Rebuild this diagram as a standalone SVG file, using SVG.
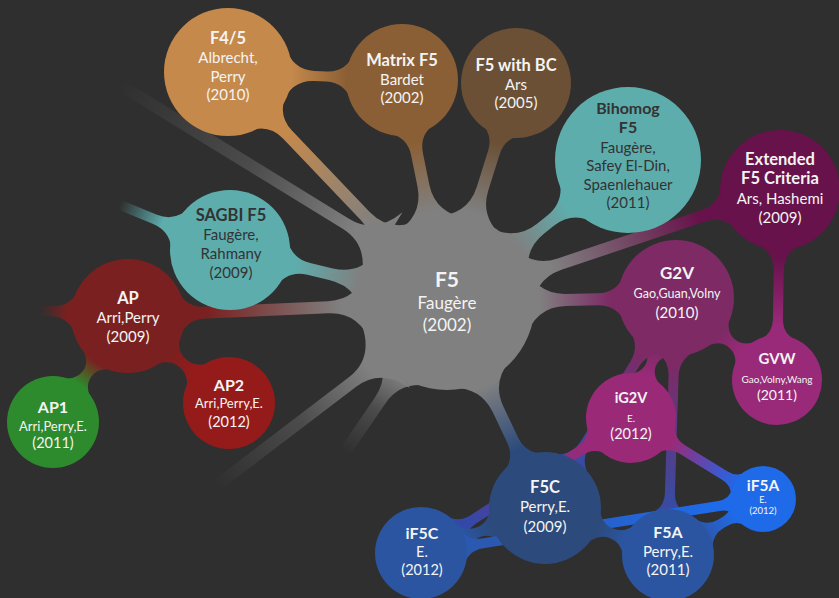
<svg xmlns="http://www.w3.org/2000/svg" width="839" height="598" viewBox="0 0 839 598">
<style>
text{font-family:Lato,"Open Sans","DejaVu Sans",sans-serif;text-anchor:middle;fill:#f4f4f4}
.b{font-weight:bold}
.d{fill:#333}
</style>
<defs>
<linearGradient id="gTan"><stop offset="0.15" stop-color="#808080"/><stop offset="0.85" stop-color="#c5894b"/></linearGradient>
<linearGradient id="gBr"><stop offset="0.15" stop-color="#808080"/><stop offset="0.85" stop-color="#8b5f35"/></linearGradient>
<linearGradient id="gDbr"><stop offset="0.15" stop-color="#808080"/><stop offset="0.85" stop-color="#6b5036"/></linearGradient>
<linearGradient id="gTeal"><stop offset="0.15" stop-color="#808080"/><stop offset="0.85" stop-color="#5eadad"/></linearGradient>
<linearGradient id="gExt"><stop offset="0.15" stop-color="#808080"/><stop offset="0.85" stop-color="#67124a"/></linearGradient>
<linearGradient id="gG2v"><stop offset="0.15" stop-color="#808080"/><stop offset="0.85" stop-color="#7d2a65"/></linearGradient>
<linearGradient id="gF5c"><stop offset="0.15" stop-color="#808080"/><stop offset="0.85" stop-color="#2c4a7b"/></linearGradient>
<linearGradient id="gAp"><stop offset="0.15" stop-color="#808080"/><stop offset="0.85" stop-color="#7a2020"/></linearGradient>
<linearGradient id="gTanBr"><stop offset="0.1" stop-color="#c5894b"/><stop offset="0.9" stop-color="#8b5f35"/></linearGradient>
<linearGradient id="gAp2"><stop offset="0.15" stop-color="#7a2020"/><stop offset="0.85" stop-color="#951b1b"/></linearGradient>
<linearGradient id="gAp1"><stop offset="0.15" stop-color="#7a2020"/><stop offset="0.85" stop-color="#2d8a2d"/></linearGradient>
<linearGradient id="gExtGvw"><stop offset="0.15" stop-color="#67124a"/><stop offset="0.85" stop-color="#992a79"/></linearGradient>
<linearGradient id="gG2vGvw"><stop offset="0.15" stop-color="#7d2a65"/><stop offset="0.85" stop-color="#992a79"/></linearGradient>
<linearGradient id="gG2vBlue"><stop offset="0.1" stop-color="#7d2a65"/><stop offset="0.9" stop-color="#3a4aa0"/></linearGradient>
<linearGradient id="gIgIf5a"><stop offset="0.1" stop-color="#9a2a78"/><stop offset="0.9" stop-color="#2a62e0"/></linearGradient>
<linearGradient id="gIgIf5c"><stop offset="0.1" stop-color="#9a2a78"/><stop offset="0.9" stop-color="#3448a8"/></linearGradient>
<linearGradient id="gBlue"><stop offset="0.15" stop-color="#2c4a7b"/><stop offset="0.85" stop-color="#2b55a0"/></linearGradient>
<linearGradient id="gBright"><stop offset="0.1" stop-color="#2b58b0"/><stop offset="0.9" stop-color="#1f6ae8"/></linearGradient>
<linearGradient id="fGray"><stop offset="0.1" stop-color="#808080"/><stop offset="0.5" stop-color="#808080" stop-opacity="0.35"/><stop offset="1" stop-color="#808080" stop-opacity="0"/></linearGradient>
<linearGradient id="fTeal"><stop offset="0.3" stop-color="#5eadad"/><stop offset="1" stop-color="#5eadad" stop-opacity="0"/></linearGradient>
<linearGradient id="fRed"><stop offset="0.3" stop-color="#7a2020"/><stop offset="1" stop-color="#7a2020" stop-opacity="0"/></linearGradient>
</defs>
<rect width="839" height="598" fill="#2f2f2f"/>
<g id="connectors">
<path fill="url(#fGray)" transform="translate(447,286) rotate(-148.4)" d="M76.6,-39.6 Q88,-6 118.8,-6 L384,-6 L384,6 L118.8,6 Q88,6 76.6,39.6Z"/>
<path fill="url(#fGray)" transform="translate(447,310) rotate(142.7)" d="M76.6,-39.6 Q88,-6 118.8,-6 L290,-6 L290,6 L118.8,6 Q88,6 76.6,39.6Z"/>
<path fill="url(#fGray)" transform="translate(447,302) rotate(124.2)" d="M76.6,-39.6 Q88,-6 118.8,-6 L181,-6 L181,6 L118.8,6 Q88,6 76.6,39.6Z"/>
<path fill="url(#fTeal)" transform="translate(230,250) rotate(-157.75)" d="M52.2,-27 Q60,-5 81,-5 L119,-5 L119,5 L81,5 Q60,5 52.2,27Z"/>
<path fill="url(#fRed)" transform="translate(128,316) rotate(-176.3)" d="M49.6,-25.7 Q57,-5 77,-5 L88,-5 L88,5 L77,5 Q57,5 49.6,25.7Z"/>
<path fill="url(#gTan)" transform="translate(447,302) rotate(-133.6)" d="M76.6,-39.6 Q88,-6 118.8,-6 L231.2,-6 Q253.6,-6 261.9,-28.8 L261.9,28.8 Q253.6,6 231.2,6 L118.8,6 Q88,6 76.6,39.6Z"/>
<path fill="url(#gBr)" transform="translate(447,302) rotate(-101.46)" d="M76.6,-39.6 Q88,-6 118.8,-6 L150.9,-6 Q170.5,-6 177.8,-25.2 L177.8,25.2 Q170.5,6 150.9,6 L118.8,6 Q88,6 76.6,39.6Z"/>
<path fill="url(#gDbr)" transform="translate(447,302) rotate(-72.59)" d="M76.6,-39.6 Q88,-6 118.8,-6 L156.3,-6 Q175.6,-6 182.7,-24.8 L182.7,24.8 Q175.6,6 156.3,6 L118.8,6 Q88,6 76.6,39.6Z"/>
<path fill="url(#gTeal)" transform="translate(447,302) rotate(-38.12)" d="M76.6,-39.6 Q88,-6 118.8,-6 L131.5,-6 Q157.1,-6 166.6,-32.9 L166.6,32.9 Q157.1,6 131.5,6 L118.8,6 Q88,6 76.6,39.6Z"/>
<path fill="url(#gExt)" transform="translate(447,302) rotate(-18.59)" d="M76.6,-39.6 Q88,-6 118.8,-6 L270.3,-6 Q291.3,-6 299.1,-27 L299.1,27 Q291.3,6 270.3,6 L118.8,6 Q88,6 76.6,39.6Z"/>
<path fill="url(#gG2v)" transform="translate(447,302) rotate(-1)" d="M76.6,-39.6 Q88,-6 118.8,-6 L150.7,-6 Q171,-6 178.5,-26.1 L178.5,26.1 Q171,6 150.7,6 L118.8,6 Q88,6 76.6,39.6Z"/>
<path fill="url(#gF5c)" transform="translate(447,302) rotate(64.56)" d="M76.6,-39.6 Q88,-6 118.8,-6 L152.5,-6 Q172.1,-6 179.4,-25.2 L179.4,25.2 Q172.1,6 152.5,6 L118.8,6 Q88,6 76.6,39.6Z"/>
<path fill="url(#gTeal)" transform="translate(447,302) rotate(-166.52)" d="M76.6,-39.6 Q88,-6 118.8,-6 L142.1,-6 Q163.1,-6 170.9,-27 L170.9,27 Q163.1,6 142.1,6 L118.8,6 Q88,6 76.6,39.6Z"/>
<path fill="url(#gAp)" transform="translate(447,302) rotate(177.49)" d="M76.6,-39.6 Q88,-6 118.8,-6 L242.3,-6 Q262.3,-6 269.7,-25.7 L269.7,25.7 Q262.3,6 242.3,6 L118.8,6 Q88,6 76.6,39.6Z"/>
<path fill="url(#gTanBr)" transform="translate(228,72) rotate(2.63)" d="M55.7,-28.8 Q64,-5 86.4,-5 L98.6,-5 Q118.2,-5 125.5,-25.2 L125.5,25.2 Q118.2,5 98.6,5 L86.4,5 Q64,5 55.7,28.8Z"/>
<path fill="url(#gAp2)" transform="translate(128,316) rotate(40.74)" d="M49.6,-25.7 Q57,-5 72.2,-5 Q87.3,-5 93.3,-20.7 L93.3,20.7 Q87.3,5 72.2,5 Q57,5 49.6,25.7Z"/>
<path fill="url(#gAp1)" transform="translate(128,316) rotate(125.28)" d="M49.6,-25.7 Q57,-5 70.45,-5 Q83.9,-5 89.9,-20.7 L89.9,20.7 Q83.9,5 70.45,5 Q57,5 49.6,25.7Z"/>
<path fill="url(#gExtGvw)" transform="translate(780,190) rotate(90.9)" d="M52.2,-27 Q60,-5 81,-5 L129.25,-5 Q145,-5 150.85,-20.25 L150.85,20.25 Q145,5 129.25,5 L81,5 Q60,5 52.2,27Z"/>
<path fill="url(#gG2vGvw)" transform="translate(676,298) rotate(39.07)" d="M50.5,-26.1 Q58,-5 71.55,-5 Q85.1,-5 90.95,-20.25 L90.95,20.25 Q85.1,5 71.55,5 Q58,5 50.5,26.1Z"/>
<path fill="url(#gG2vGvw)" transform="translate(676,298) rotate(110.56)" d="M50.5,-26.1 Q58,-5 70.6,-5 Q83.2,-5 89.05,-20.25 L89.05,20.25 Q83.2,5 70.6,5 Q58,5 50.5,26.1Z"/>
<path fill="url(#gG2vBlue)" transform="translate(676,298) rotate(91.78)" d="M50.5,-26.1 Q58,-5 78.3,-5 L195,-5 Q211.1,-5 217.1,-20.7 L217.1,20.7 Q211.1,5 195,5 L78.3,5 Q58,5 50.5,26.1Z"/>
<path fill="url(#gG2vBlue)" transform="translate(676,298) rotate(121.96)" d="M50.5,-26.1 Q58,-5 78.3,-5 L171.9,-5 Q191.5,-5 198.8,-25.2 L198.8,25.2 Q191.5,5 171.9,5 L78.3,5 Q58,5 50.5,26.1Z"/>
<path fill="url(#gIgIf5c)" transform="translate(631,418) rotate(147.26)" d="M39.15,-20.25 Q45,-5 60.75,-5 L187.5,-5 Q203.6,-5 209.6,-20.7 L209.6,20.7 Q203.6,5 187.5,5 L60.75,5 Q45,5 39.15,20.25Z"/>
<path fill="url(#gIgIf5a)" transform="translate(631,418) rotate(31.53)" d="M39.15,-20.25 Q45,-5 60.75,-5 L110.35,-5 Q121.9,-5 126.2,-14.85 L126.2,14.85 Q121.9,5 110.35,5 L60.75,5 Q45,5 39.15,20.25Z"/>
<path fill="url(#gBlue)" transform="translate(545,508) rotate(160.06)" d="M48.7,-25.2 Q56,-5 70.95,-5 Q85.9,-5 91.9,-20.7 L91.9,20.7 Q85.9,5 70.95,5 Q56,5 48.7,25.2Z"/>
<path fill="url(#gBright)" transform="translate(421,553) rotate(-8.97)" d="M40,-20.7 Q46,-5 62.1,-5 L301.65,-5 Q313.2,-5 317.5,-14.85 L317.5,14.85 Q313.2,5 301.65,5 L62.1,5 Q46,5 40,20.7Z"/>
<path fill="url(#gBlue)" transform="translate(545,508) rotate(20.91)" d="M48.7,-25.2 Q56,-5 70.85,-5 Q85.7,-5 91.7,-20.7 L91.7,20.7 Q85.7,5 70.85,5 Q56,5 48.7,25.2Z"/>
<path fill="url(#gBright)" transform="translate(668,555) rotate(-30.52)" d="M40,-20.7 Q46,-5 62.1,-5 L65.75,-5 Q77.3,-5 81.6,-14.85 L81.6,14.85 Q77.3,5 65.75,5 L62.1,5 Q46,5 40,20.7Z"/>
</g>
<g id="n-f5"><circle cx="447" cy="302" r="88" fill="#808080"/><text x="447" y="287" class="b" font-size="21">F5</text><text x="447" y="309" font-size="17">Faugère</text><text x="447" y="331" font-size="17">(2002)</text></g>
<g id="n-f45"><circle cx="228" cy="72" r="64" fill="#c5894b"/><text x="228" y="44" class="b" font-size="16.5">F4/5</text><text x="228" y="63" font-size="15">Albrecht,</text><text x="228" y="82" font-size="15">Perry</text><text x="228" y="100" font-size="15">(2010)</text></g>
<g id="n-matrix"><circle cx="402" cy="80" r="56" fill="#8b5f35"/><text x="402" y="66" class="b" font-size="16.5">Matrix F5</text><text x="402" y="85" font-size="15">Bardet</text><text x="402" y="103" font-size="15">(2002)</text></g>
<g id="n-bc"><circle cx="516" cy="83" r="55" fill="#6b5036"/><text x="516" y="71" class="b" font-size="16.5">F5 with BC</text><text x="516" y="90" font-size="15">Ars</text><text x="516" y="108" font-size="15">(2005)</text></g>
<g id="n-bihomog"><circle cx="628" cy="160" r="73" fill="#5eadad"/><text x="628" y="114" class="b d" font-size="16">Bihomog</text><text x="628" y="133" class="b d" font-size="16">F5</text><text x="628" y="153" class="d" font-size="15">Faugère,</text><text x="628" y="171" class="d" font-size="15">Safey El-Din,</text><text x="628" y="190" class="d" font-size="15">Spaenlehauer</text><text x="628" y="208" class="d" font-size="15">(2011)</text></g>
<g id="n-ext"><circle cx="780" cy="190" r="60" fill="#67124a"/><text x="780" y="165" class="b" font-size="16.5">Extended</text><text x="780" y="184" class="b" font-size="16.5">F5 Criteria</text><text x="780" y="204" font-size="15">Ars, Hashemi</text><text x="780" y="223" font-size="15">(2009)</text></g>
<g id="n-sagbi"><circle cx="230" cy="250" r="60" fill="#5eadad"/><text x="231" y="221" class="b d" font-size="16.5">SAGBI F5</text><text x="231" y="240" class="d" font-size="15">Faugère,</text><text x="231" y="259" class="d" font-size="15">Rahmany</text><text x="231" y="278" class="d" font-size="15">(2009)</text></g>
<g id="n-ap"><circle cx="128" cy="316" r="57" fill="#7a2020"/><text x="128" y="304" class="b" font-size="16.5">AP</text><text x="128" y="323" font-size="15">Arri,Perry</text><text x="128" y="342" font-size="15">(2009)</text></g>
<g id="n-ap2"><circle cx="229" cy="403" r="46" fill="#951b1b"/><text x="229" y="391" class="b" font-size="16">AP2</text><text x="229" y="408" font-size="13">Arri,Perry,E.</text><text x="229" y="427" font-size="14.5">(2012)</text></g>
<g id="n-ap1"><circle cx="53" cy="422" r="46" fill="#2d8a2d"/><text x="53" y="413" class="b" font-size="16">AP1</text><text x="53" y="431" font-size="13">Arri,Perry,E.</text><text x="53" y="448" font-size="14.5">(2011)</text></g>
<g id="n-g2v"><circle cx="676" cy="298" r="58" fill="#7d2a65"/><text x="677" y="279" class="b" font-size="17">G2V</text><text x="677" y="298" font-size="12.5">Gao,Guan,Volny</text><text x="677" y="318" font-size="15">(2010)</text></g>
<g id="n-gvw"><circle cx="777" cy="380" r="45" fill="#992a79"/><text x="777" y="364" class="b" font-size="15">GVW</text><text x="777" y="383" font-size="10">Gao,Volny,Wang</text><text x="777" y="400" font-size="14">(2011)</text></g>
<g id="n-ig2v"><circle cx="631" cy="418" r="45" fill="#9a2a78"/><text x="631" y="403" class="b" font-size="14.5">iG2V</text><text x="631" y="422" font-size="10">E.</text><text x="631" y="439" font-size="14.5">(2012)</text></g>
<g id="n-f5c"><circle cx="545" cy="508" r="56" fill="#2c4a7b"/><text x="545" y="493" class="b" font-size="16.5">F5C</text><text x="545" y="512" font-size="15">Perry,E.</text><text x="545" y="532" font-size="15">(2009)</text></g>
<g id="n-if5c"><circle cx="421" cy="553" r="46" fill="#2b55a0"/><text x="422" y="539" class="b" font-size="16">iF5C</text><text x="422" y="557" font-size="14.5">E.</text><text x="422" y="575" font-size="14.5">(2012)</text></g>
<g id="n-f5a"><circle cx="668" cy="555" r="46" fill="#2b55a0"/><text x="668" y="538" class="b" font-size="16">F5A</text><text x="668" y="557" font-size="15">Perry,E.</text><text x="668" y="575" font-size="15">(2011)</text></g>
<g id="n-if5a"><circle cx="763" cy="499" r="33" fill="#1f6ae8"/><text x="763" y="491" class="b" font-size="15.5">iF5A</text><text x="763" y="503" font-size="9">E.</text><text x="763" y="514" font-size="9.5">(2012)</text></g>
</svg>
